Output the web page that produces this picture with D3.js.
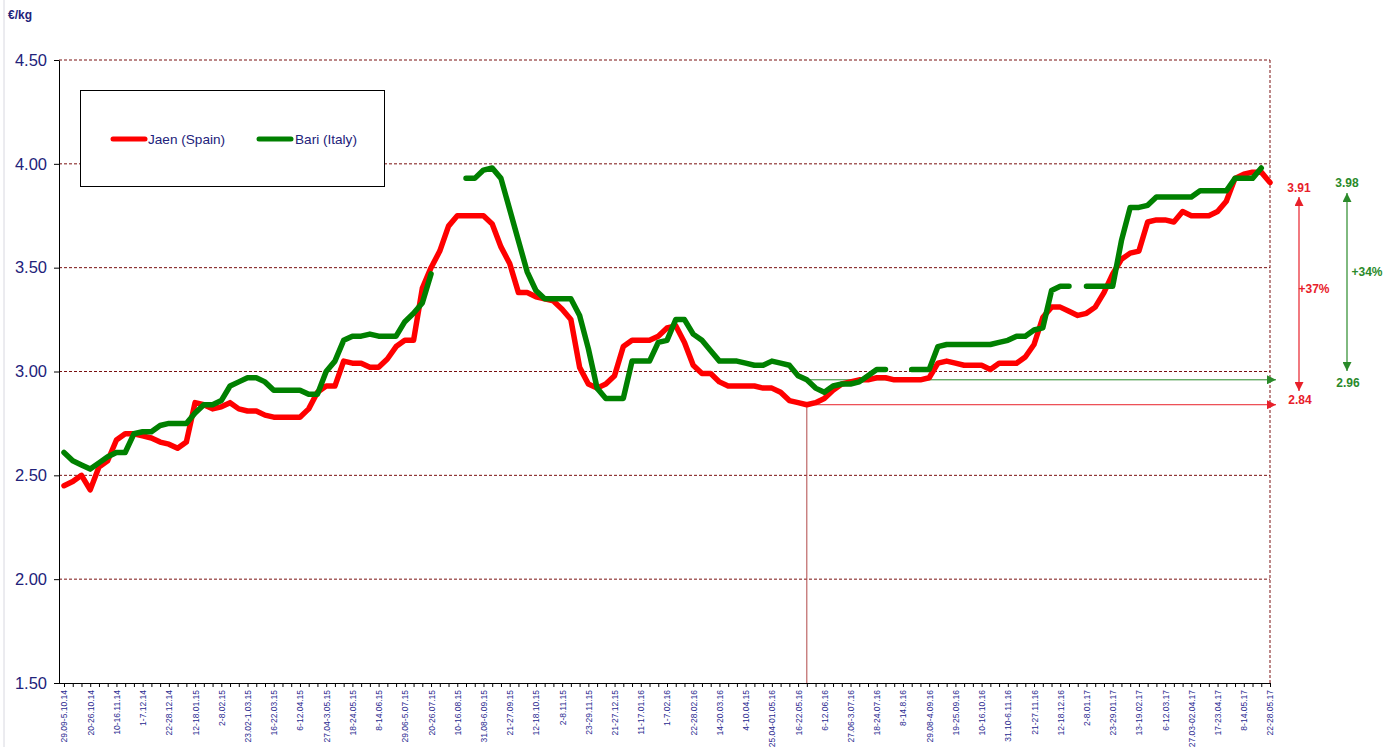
<!DOCTYPE html>
<html>
<head>
<meta charset="utf-8">
<script src="https://cdn.jsdelivr.net/npm/d3@7"></script>
<style>
  body { margin: 0; background: #fff; }
  text { font-family: 'Liberation Sans', Arial, sans-serif; }
</style>
</head>
<body>
<svg id="chart"></svg>
<script>
// Weekly categories (139 weeks, 29.09.14 - 28.05.17), labelled every 3rd week
const weeks = d3.range(139);
const tickLabels = [
  '29.09-5.10.14', '20-26.10.14', '10-16.11.14', '1-7.12.14', '22-28.12.14', '12-18.01.15',
  '2-8.02.15', '23.02-1.03.15', '16-22.03.15', '6-12.04.15', '27.04-3.05.15', '18-24.05.15',
  '8-14.06.15', '29.06-5.07.15', '20-26.07.15', '10-16.08.15', '31.08-6.09.15', '21-27.09.15',
  '12-18.10.15', '2-8.11.15', '23-29.11.15', '21-27.12.15', '11-17.01.16', '1-7.02.16',
  '22-28.02.16', '14-20.03.16', '4-10.04.15', '25.04-01.05.16', '16-22.05.16', '6-12.06.16',
  '27.06-3.07.16', '18-24.07.16', '8-14.8.16', '29.08-4.09.16', '19-25.09.16', '10-16.10.16',
  '31.10-6.11.16', '21-27.11.16', '12-18.12.16', '2-8.01.17', '23-29.01.17', '13-19.02.17',
  '6-12.03.17', '27.03-02.04.17', '17-23.04.17', '8-14.05.17', '22-28.05.17'
];

// €/kg, Jaen (Spain)
const jaen = [
  2.45, 2.47, 2.50, 2.43, 2.54, 2.57, 2.67, 2.70, 2.70, 2.69,
  2.68, 2.66, 2.65, 2.63, 2.66, 2.85, 2.84, 2.82, 2.83, 2.85,
  2.82, 2.81, 2.81, 2.79, 2.78, 2.78, 2.78, 2.78, 2.82, 2.90,
  2.93, 2.93, 3.05, 3.04, 3.04, 3.02, 3.02, 3.06, 3.12, 3.15,
  3.15, 3.40, 3.50, 3.58, 3.70, 3.75, 3.75, 3.75, 3.75, 3.71,
  3.60, 3.52, 3.38, 3.38, 3.36, 3.35, 3.34, 3.30, 3.25, 3.02,
  2.94, 2.92, 2.94, 2.98, 3.12, 3.15, 3.15, 3.15, 3.17, 3.21,
  3.22, 3.14, 3.03, 2.99, 2.99, 2.95, 2.93, 2.93, 2.93, 2.93,
  2.92, 2.92, 2.90, 2.86, 2.85, 2.84, 2.85, 2.87, 2.91, 2.94,
  2.95, 2.96, 2.96, 2.97, 2.97, 2.96, 2.96, 2.96, 2.96, 2.97,
  3.04, 3.05, 3.04, 3.03, 3.03, 3.03, 3.01, 3.04, 3.04, 3.04,
  3.07, 3.13, 3.26, 3.31, 3.31, 3.29, 3.27, 3.28, 3.31, 3.38,
  3.47, 3.54, 3.57, 3.58, 3.72, 3.73, 3.73, 3.72, 3.77, 3.75,
  3.75, 3.75, 3.77, 3.82, 3.93, 3.95, 3.96, 3.96, 3.91
];

// €/kg, Bari (Italy); null = no quotation
const bari = [
  2.61, 2.57, 2.55, 2.53, 2.56, 2.59, 2.61, 2.61, 2.70, 2.71,
  2.71, 2.74, 2.75, 2.75, 2.75, 2.80, 2.84, 2.84, 2.86, 2.93,
  2.95, 2.97, 2.97, 2.95, 2.91, 2.91, 2.91, 2.91, 2.89, 2.89,
  3.00, 3.05, 3.15, 3.17, 3.17, 3.18, 3.17, 3.17, 3.17, 3.24,
  3.28, 3.33, 3.47, null, null, null, 3.93, 3.93, 3.97, 3.98,
  3.93, 3.78, 3.63, 3.48, 3.39, 3.35, 3.35, 3.35, 3.35, 3.27,
  3.11, 2.92, 2.87, 2.87, 2.87, 3.05, 3.05, 3.05, 3.14, 3.15,
  3.25, 3.25, 3.18, 3.15, 3.10, 3.05, 3.05, 3.05, 3.04, 3.03,
  3.03, 3.05, 3.04, 3.03, 2.98, 2.96, 2.92, 2.90, 2.93, 2.94,
  2.94, 2.95, 2.98, 3.01, 3.01, null, null, 3.01, 3.01, 3.01,
  3.12, 3.13, 3.13, 3.13, 3.13, 3.13, 3.13, 3.14, 3.15, 3.17,
  3.17, 3.20, 3.21, 3.39, 3.41, 3.41, null, 3.41, 3.41, 3.41,
  3.41, 3.63, 3.79, 3.79, 3.80, 3.84, 3.84, 3.84, 3.84, 3.84,
  3.87, 3.87, 3.87, 3.87, 3.93, 3.93, 3.93, 3.98, null
];

const yTicks = [1.5, 2.0, 2.5, 3.0, 3.5, 4.0, 4.5];
const seriesNames = ['Jaen (Spain)', 'Bari (Italy)'];
const baseWeek = 85; // week of the Jaen low, start of the comparison
const changeLabels = ['+37%', '+34%'];

const width = 1400, height = 747;
const marginLeft = 59, marginRight = 130, marginTop = 60, marginBottom = 64;
const navy = '#22227a';
const red = '#ff0000', green = '#008000';
const redArrow = '#e8202a', greenArrow = '#2a8a2a';

const svg = d3.select('#chart')
  .attr('width', width)
  .attr('height', height)
  .attr('viewBox', [0, 0, width, height])
  .style('background', '#fff');

const x = d3.scalePoint(weeks, [64, 1270]);
const y = d3.scaleLinear([1.5, 4.5], [height - marginBottom, marginTop]);
const plotRight = width - marginRight;

// Frame line at the far left
svg.append('line')
  .attr('x1', 4).attr('x2', 4).attr('y1', 0).attr('y2', height)
  .attr('stroke', '#d8d8e0');

svg.append('text')
  .attr('x', 8).attr('y', 19)
  .attr('fill', navy)
  .attr('font-weight', 'bold')
  .attr('font-size', 12)
  .text('€/kg');

// Gridlines
svg.append('g')
  .selectAll('line')
  .data(yTicks.filter(d => d > 1.5))
  .join('line')
  .attr('x1', marginLeft).attr('x2', plotRight)
  .attr('y1', d => y(d)).attr('y2', d => y(d))
  .attr('stroke', '#7a1010')
  .attr('stroke-dasharray', '3,2');

svg.append('line')
  .attr('x1', plotRight).attr('x2', plotRight)
  .attr('y1', marginTop).attr('y2', height - marginBottom)
  .attr('stroke', '#7a1010')
  .attr('stroke-dasharray', '3,2');

// Legend box
const legend = svg.append('g');
legend.append('rect')
  .attr('x', 80.5).attr('y', 90.5)
  .attr('width', 304).attr('height', 96)
  .attr('fill', '#fff')
  .attr('stroke', '#000');
[[113, 148], [259, 295]].forEach(([lx, tx], k) => {
  legend.append('line')
    .attr('x1', lx).attr('x2', lx + 32)
    .attr('y1', 139).attr('y2', 139)
    .attr('stroke', k ? green : red)
    .attr('stroke-width', 5)
    .attr('stroke-linecap', 'round');
  legend.append('text')
    .attr('x', tx).attr('y', 144)
    .attr('fill', navy)
    .attr('font-size', 13.6)
    .text(seriesNames[k]);
});

// Markers for the arrows
const defs = svg.append('defs');
[['arrowRed', redArrow], ['arrowGreen', greenArrow]].forEach(([id, c]) => {
  defs.append('marker')
    .attr('id', id)
    .attr('markerUnits', 'userSpaceOnUse')
    .attr('viewBox', '0 0 10 10')
    .attr('markerWidth', 9).attr('markerHeight', 9)
    .attr('refX', 10).attr('refY', 5)
    .attr('orient', 'auto-start-reverse')
    .append('path')
    .attr('d', 'M0,0 L10,5 L0,10 z')
    .attr('fill', c);
});

// Comparison guides from the base week
const xb = x(baseWeek);
svg.append('line')
  .attr('x1', xb).attr('x2', xb)
  .attr('y1', y(jaen[baseWeek])).attr('y2', height - marginBottom)
  .attr('stroke', '#b04848');
svg.append('line')
  .attr('x1', xb).attr('x2', 1276)
  .attr('y1', y(jaen[baseWeek])).attr('y2', y(jaen[baseWeek]))
  .attr('stroke', redArrow)
  .attr('marker-end', 'url(#arrowRed)');
svg.append('line')
  .attr('x1', xb).attr('x2', 1276)
  .attr('y1', y(bari[baseWeek])).attr('y2', y(bari[baseWeek]))
  .attr('stroke', greenArrow)
  .attr('marker-end', 'url(#arrowGreen)');

// Series lines
const line = d3.line()
  .defined(d => d != null)
  .x((d, i) => x(weeks[i]))
  .y(d => y(d));

[[jaen, red], [bari, green]].forEach(([data, c]) => {
  svg.append('path')
    .attr('d', line(data))
    .attr('fill', 'none')
    .attr('stroke', c)
    .attr('stroke-width', 5.5)
    .attr('stroke-linejoin', 'round')
    .attr('stroke-linecap', 'round');
});

// Right-hand annotations
const fmt = d3.format('.2f');
const lastBari = bari[d3.max(weeks.filter(i => bari[i] != null))];
const notes = [
  { x: 1299, top: 192, bottom: 404, a1: 197, a2: 391, end: jaen[jaen.length - 1], start: jaen[baseWeek],
    change: changeLabels[0], cx: 1314, cy: 293, color: redArrow, marker: 'arrowRed' },
  { x: 1347, top: 187, bottom: 387, a1: 193, a2: 371, end: lastBari, start: bari[baseWeek],
    change: changeLabels[1], cx: 1367, cy: 276, color: greenArrow, marker: 'arrowGreen' }
];
notes.forEach(n => {
  svg.append('line')
    .attr('x1', n.x).attr('x2', n.x)
    .attr('y1', n.a2).attr('y2', n.a1)
    .attr('stroke', n.color)
    .attr('stroke-width', 1.2)
    .attr('marker-start', `url(#${n.marker})`)
    .attr('marker-end', `url(#${n.marker})`);
  const t = svg.append('g')
    .attr('fill', n.color)
    .attr('font-weight', 'bold')
    .attr('font-size', 12)
    .attr('text-anchor', 'middle');
  t.append('text').attr('x', n.x).attr('y', n.top).text(fmt(n.end));
  t.append('text').attr('x', n.x + 1).attr('y', n.bottom).text(fmt(n.start));
  t.append('text').attr('x', n.cx).attr('y', n.cy).text(n.change);
});

// Y axis
svg.append('g')
  .attr('transform', `translate(${marginLeft},0)`)
  .call(d3.axisLeft(y).tickValues(yTicks).tickFormat(d3.format('.2f')).tickSize(5).tickSizeOuter(0))
  .call(g => g.select('.domain').attr('stroke', '#000'))
  .call(g => g.selectAll('.tick text')
    .attr('fill', navy)
    .attr('font-size', 16.5)
    .attr('font-family', "'Liberation Sans', Arial, sans-serif")
    .attr('x', -12));

// X axis: tick per week, label every 3rd week
const labelled = new Map(tickLabels.map((t, k) => [weeks[k * 3], t]));
svg.append('g')
  .attr('transform', `translate(0,${height - marginBottom})`)
  .call(d3.axisBottom(x).tickSize(4).tickSizeOuter(0).tickFormat(d => labelled.get(d) || ''))
  .call(g => g.select('.domain').attr('stroke', '#000').attr('d', `M${marginLeft},0.5H${plotRight}`))
  .call(g => g.selectAll('.tick line').attr('stroke', '#000'))
  .call(g => g.selectAll('.tick text')
    .attr('fill', '#2a2a90')
    .attr('font-size', 8.5)
    .attr('font-family', "'Liberation Sans', Arial, sans-serif")
    .attr('text-anchor', 'end')
    .attr('transform', 'rotate(-90)')
    .attr('x', -7)
    .attr('y', 0)
    .attr('dy', '0.35em'));
</script>
</body>
</html>
